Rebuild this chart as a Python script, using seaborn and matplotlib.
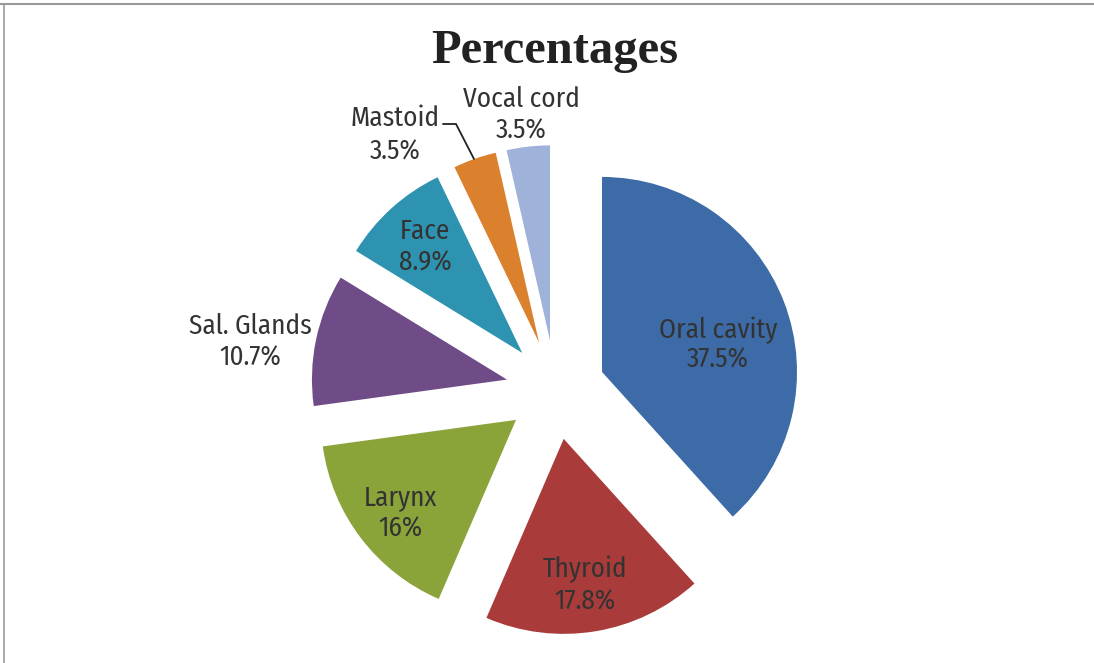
import matplotlib
matplotlib.use("Agg")
import matplotlib.pyplot as plt
from matplotlib.lines import Line2D
import seaborn as sns

# Share of cases by site
sites = ["Oral cavity", "Thyroid", "Larynx", "Sal. Glands", "Face", "Mastoid", "Vocal cord"]
percent = [37.5, 17.8, 16, 10.7, 8.9, 3.5, 3.5]
pct_labels = ["37.5%", "17.8%", "16%", "10.7%", "8.9%", "3.5%", "3.5%"]

colors = ["#3D6BA7", "#A93B3A", "#8BA43A", "#6F4B87", "#2E93B0", "#DB812E", "#9FB2D9"]

# Label placement in pixel space (x centre, baseline of name, baseline of value)
label_pos = [(718, 338, 368), (585, 577, 610), (400, 505, 537), (250, 334, 366),
             (425, 239, 271), (395, 126, 160), (521, 107, 139)]

W, H = 1094, 663
R = 195
sns.set_theme(style="white")
plt.rcParams["font.family"] = ["Fira Sans Condensed", "Liberation Sans", "DejaVu Sans"]

fig = plt.figure(figsize=(W / 100, H / 100), dpi=100)
ax = fig.add_axes([0, 0, 1, 1])

# explode is an absolute offset in data units here (radius is in pixels)
ax.pie(percent, colors=sns.color_palette(colors), startangle=90, counterclock=False,
       explode=[0.255 * R] * len(percent), radius=R, center=(555.6, H - 389.8),
       wedgeprops=dict(linewidth=0), frame=True)
ax.set_xlim(0, W)
ax.set_ylim(0, H)
ax.set_aspect("equal")
ax.axis("off")

txt_color = "#333333"
for name, val, (x, b1, b2) in zip(sites, pct_labels, label_pos):
    ax.text(x, H - b1, name, ha="center", va="baseline", fontsize=19.5, color=txt_color,
            fontweight="normal")
    ax.text(x, H - b2, val, ha="center", va="baseline", fontsize=19.5, color=txt_color,
            fontweight="normal")

# Leader line for the Mastoid label
ax.plot([443, 456, 474], [H - 124, H - 124, H - 159], color="#222222", lw=1.3,
        solid_joinstyle="miter")

ax.text(555, H - 63, "Percentages", ha="center", va="baseline", fontsize=35,
        fontweight="bold", family="Liberation Serif", color="#222222")

# Chart-area border (top and left edges)
fig.add_artist(Line2D([0, 1], [1 - 3.5 / H, 1 - 3.5 / H], color="#999999", lw=1.5,
                      transform=fig.transFigure))
fig.add_artist(Line2D([3.5 / W, 3.5 / W], [0, 1 - 3.5 / H], color="#999999", lw=1.2,
                      transform=fig.transFigure))

fig.savefig("out.png", dpi=100, facecolor="white")
